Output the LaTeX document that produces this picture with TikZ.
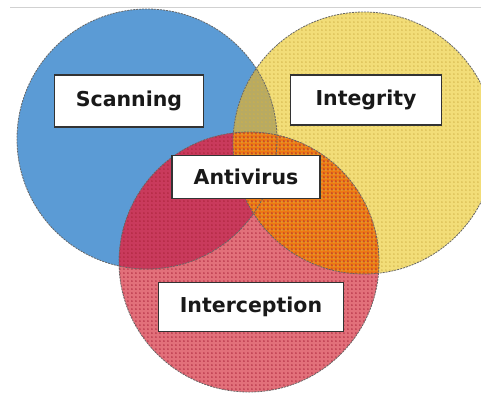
\documentclass[tikz,border=0pt]{standalone}
\usepackage{fontspec}
\newfontfamily\labelfont{DejaVu Sans}
\usetikzlibrary{patterns.meta}

\definecolor{scanblue}{HTML}{5B9BD5}
\definecolor{integyellow}{HTML}{F2DD78}
\definecolor{intered}{HTML}{E2707A}
\definecolor{olive}{HTML}{B8AA62}
\definecolor{crimson}{HTML}{C93A5C}
\definecolor{avorange}{HTML}{EE7A14}
\definecolor{ydots}{HTML}{D0B248}
\definecolor{rdots}{HTML}{A82238}

% dot raster used on the yellow and red discs
\tikzdeclarepattern{
  name=coarsedots,
  type=uncolored,
  bounding box={(0pt,0pt) and (4.4pt,4.4pt)},
  tile size={(4.4pt,4.4pt)},
  code={\pgfpathcircle{\pgfpoint{2.2pt}{2.2pt}}{0.9pt}\pgfusepath{fill}}
}

\newcommand{\scancircle}{(147,139) circle (130pt)}
\newcommand{\integcircle}{(364,143) circle (131pt)}
\newcommand{\intercircle}{(249,262) circle (130pt)}

\tikzset{
  labelbox/.style={draw=black!80, line width=1.3pt, fill=white, inner sep=0pt,
    font=\labelfont\bfseries\fontsize{20.5}{24}\selectfont, text=black!90},
  rim/.style={draw=black!60, line width=0.8pt, dash pattern=on 2pt off 1pt}
}

\begin{document}
\begin{tikzpicture}[x=1pt,y=-1pt]
  \useasboundingbox (0,0) rectangle (481,394);
  % thin rule along the top
  \draw[black!18, line width=0.8pt] (10,7) -- (481,7);

  % the three discs
  \fill[scanblue] \scancircle;
  \fill[integyellow] \integcircle;
  \fill[intered] \intercircle;

  % overlaps
  \begin{scope}
    \clip \scancircle;
    \fill[olive] \integcircle;
    \fill[crimson] \intercircle;
  \end{scope}
  \begin{scope}
    \clip \integcircle;
    \fill[avorange] \intercircle;
  \end{scope}

  % dot raster
  \fill[pattern={coarsedots}, pattern color=ydots] \integcircle;
  \fill[pattern={coarsedots}, pattern color=rdots] \intercircle;

  % outlines
  \draw[rim] \scancircle;
  \draw[rim] \integcircle;
  \draw[rim] \intercircle;

  % labels
  \node[labelbox, minimum width=149pt, minimum height=52pt] (scan) at (129,101) {Scanning};
  \node[labelbox, minimum width=151pt, minimum height=50pt] (integ) at (366,100) {Integrity};
  \node[labelbox, minimum width=148pt, minimum height=43pt] (anti) at (246,177) {Antivirus};
  \node[labelbox, minimum width=185pt, minimum height=49pt] (inter) at (251,307) {Interception};
\end{tikzpicture}
\end{document}
